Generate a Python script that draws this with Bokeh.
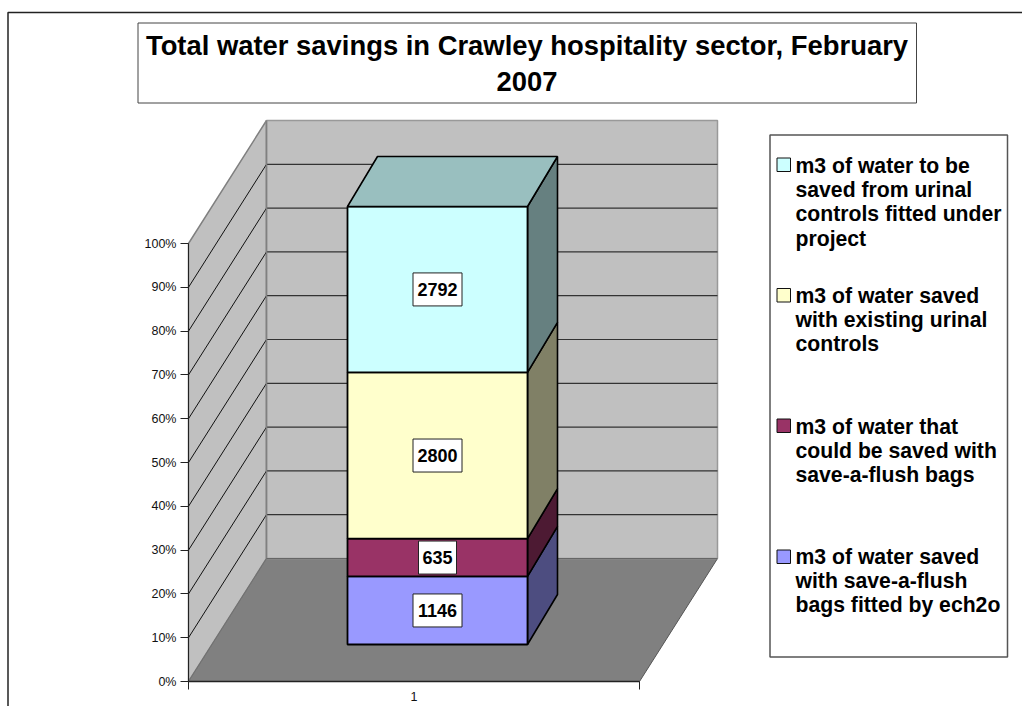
from bokeh.plotting import figure
from bokeh.models import Range1d, FixedTicker, PrintfTickFormatter, BoxAnnotation, Label
from bokeh.core.properties import value
from bokeh.embed import file_html
from bokeh.resources import INLINE

title_lines = ["Total water savings in Crawley hospitality sector, February", "2007"]
series_values = [1146, 635, 2800, 2792]
front_colors = ["#9999FF", "#993366", "#FFFFCC", "#CCFFFF"]
side_colors = ["#4D4D80", "#4D1A33", "#808066", "#668080"]
top_color = "#99BFBF"
legend_lines = [
    ["m3 of water to be", "saved from urinal", "controls fitted under", "project"],
    ["m3 of water saved", "with existing urinal", "controls"],
    ["m3 of water that", "could be saved with", "save-a-flush bags"],
    ["m3 of water saved", "with save-a-flush", "bags fitted by ech2o"],
]
legend_colors = ["#CCFFFF", "#FFFFCC", "#993366", "#9999FF"]
legend_tops = [157.5, 288, 418.5, 549.5]
legend_first_line = [164.5, 294.5, 425.5, 555.5]
percent_ticks = [0, 10, 20, 30, 40, 50, 60, 70, 80, 90, 100]
category_label = "1"

FONT = "Liberation Sans"
PX0, PY0, PXW, PYH = 188, 681, 451.0, 4.38


def X(px):
    return (px - PX0) / PXW


def Y(py):
    return (PY0 - py) / PYH


p = figure(width=1022, height=706, output_backend="svg", toolbar_location=None,
           x_range=Range1d(X(0), X(1022)), y_range=Range1d(Y(706), Y(0)),
           min_border=0, background_fill_color="white", border_fill_color="white")
p.outline_line_color = None
p.grid.visible = False

# axes
xa, ya = p.xaxis[0], p.yaxis[0]
ya.fixed_location = 0
ya.bounds = (0, 100)
ya.ticker = FixedTicker(ticks=percent_ticks)
ya.formatter = PrintfTickFormatter(format="%d%%")
ya.major_tick_out = 8
ya.major_tick_in = 0
ya.minor_tick_out = 0
ya.minor_tick_in = 0
ya.axis_line_color = "#222222"
ya.major_tick_line_color = "#222222"
ya.major_label_text_font = FONT
ya.major_label_text_font_size = "12.5px"
ya.major_label_text_color = "#111111"
ya.major_label_standoff = 4

xa.fixed_location = 0
xa.bounds = (0, 1)
xa.ticker = FixedTicker(ticks=[0.5], minor_ticks=[0, 1])
xa.major_label_overrides = {0.5: category_label}
xa.major_tick_out = 0
xa.major_tick_in = 0
xa.minor_tick_out = 8
xa.minor_tick_in = 0
xa.axis_line_color = "#222222"
xa.axis_line_width = 1.5
xa.minor_tick_line_color = "#222222"
xa.major_label_text_font = FONT
xa.major_label_text_font_size = "12.5px"
xa.major_label_text_color = "#111111"
xa.major_label_standoff = 2

# depth of the 3-D box
DX, DY = 78 / PXW, 123 / PYH
# floor and walls
p.patch([0, 1, 1 + DX, DX], [0, 0, DY, DY], fill_color="#808080", line_color="#555555", line_width=1)
p.patch([0, DX, DX, 0], [100, 100 + DY, DY, 0], fill_color="#C0C0C0", line_color="#808080", line_width=1.5)
p.patch([DX, 1 + DX, 1 + DX, DX], [DY, DY, 100 + DY, 100 + DY], fill_color="#C0C0C0", line_color="#999999", line_width=1.5)
for t in percent_ticks[1:-1]:
    p.line([0, DX], [t, t + DY], line_color="#111111", line_width=1)
    p.line([DX, 1 + DX], [t + DY, t + DY], line_color="#333333", line_width=1.2)
p.line([DX, DX], [DY, 100 + DY], line_color="#808080", line_width=1.5)
p.line([0, DX], [0, DY], line_color="#707070", line_width=1)
p.line([DX, 1 + DX], [DY, DY], line_color="#666666", line_width=1.2)

# stacked bar
BL, BR = X(347), X(527)
BASE = Y(644)
BDX, BDY = 30 / PXW, 50 / PYH
total = sum(series_values)
cum = 0
label_pos = []
for v, fc, sc in zip(series_values, front_colors, side_colors):
    y0 = BASE + cum / total * 100
    cum += v
    y1 = BASE + cum / total * 100
    p.patch([BR, BR + BDX, BR + BDX, BR], [y0, y0 + BDY, y1 + BDY, y1], fill_color=sc, line_color="black", line_width=1.6)
    p.patch([BL, BR, BR, BL], [y0, y0, y1, y1], fill_color=fc, line_color="black", line_width=1.8)
    label_pos.append((y0 + y1) / 2)
p.patch([BL, BR, BR + BDX, BL + BDX], [y1, y1, y1 + BDY, y1 + BDY], fill_color=top_color, line_color="black", line_width=1.6)

# data labels
for v, yc in zip(series_values, label_pos):
    s = str(v)
    p.rect([(BL + BR) / 2], [yc], width=[5 + 11 * len(s)], height=[33], width_units="screen", height_units="screen",
           fill_color="white", line_color="#222222", line_width=1)
    p.text([(BL + BR) / 2], [yc], text=[s], text_font=value(FONT), text_font_style="bold", text_font_size="18px",
           text_align="center", text_baseline="middle", text_color="black")


def page_box(l, r, t, b, **kw):
    return BoxAnnotation(left=X(l), right=X(r), top=Y(t), bottom=Y(b), line_alpha=1, **kw)


# outer frame and title box
p.add_layout(page_box(7.5, 1040, 12, 730, fill_alpha=0, line_color="#222222", line_width=1.5, level="underlay"))
p.add_layout(page_box(137.5, 916, 22.5, 102.5, fill_color="white", fill_alpha=1, line_color="#444444", line_width=1))
for line, py in zip(title_lines, [44.5, 80.5]):
    p.add_layout(Label(x=X(526.5), y=Y(py), text=line, text_font=FONT, text_font_style="bold",
                       text_font_size="27.4px", text_align="center", text_baseline="middle", text_color="black"))

# legend
p.add_layout(page_box(769.5, 1007, 134.5, 656.5, fill_color="white", fill_alpha=1, line_color="#555555", line_width=1.5))
for lines, col, top, first in zip(legend_lines, legend_colors, legend_tops, legend_first_line):
    p.add_layout(page_box(776.5, 790, top, top + 13.5, fill_color=col, fill_alpha=1, line_color="#111111", line_width=1))
    for i, line in enumerate(lines):
        p.add_layout(Label(x=X(795), y=Y(first + i * 24.4), text=line, text_font=FONT, text_font_style="bold",
                           text_font_size="21.2px", text_align="left", text_baseline="middle", text_color="black"))

open("out.html", "w").write(file_html(p, INLINE))
